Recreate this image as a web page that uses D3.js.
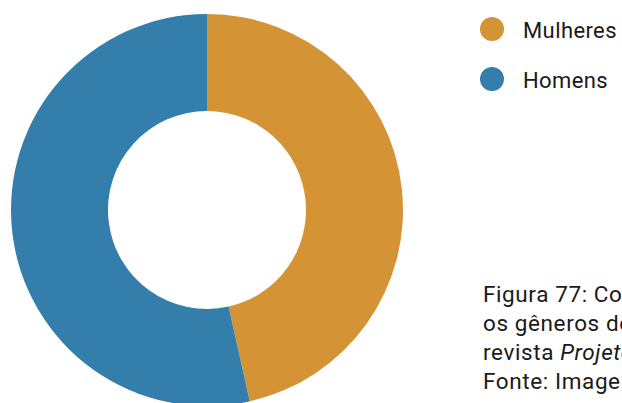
<!DOCTYPE html>
<html>
<head>
<meta charset="utf-8">
<script src="https://cdn.jsdelivr.net/npm/d3@7"></script>
<style>
  html, body { margin: 0; padding: 0; background: #fff; overflow: hidden; }
  svg { display: block; }
</style>
</head>
<body>
<svg id="chart" width="622" height="403"></svg>
<script>
// Gender split of authors
const categories = ["Mulheres", "Homens"];
const values = [46.5, 53.5];
const colors = ["#D49435", "#337EAA"];
const captionLines = [
  [{ t: "Figura 77: Comparação entre" }],
  [{ t: "os gêneros dos autores da" }],
  [{ t: "revista " }, { t: "Projeto", italic: true }],
  [{ t: "Fonte: Imagem do autor" }]
];

const svg = d3.select("#chart");
const cx = 207, cy = 210, outerR = 196, innerR = 99;

const pie = d3.pie().sort(null).value(d => d)(values);
const arc = d3.arc().innerRadius(innerR).outerRadius(outerR);
const color = d3.scaleOrdinal().domain(categories).range(colors);

svg.append("g")
  .attr("transform", `translate(${cx},${cy})`)
  .selectAll("path")
  .data(pie)
  .join("path")
  .attr("d", arc)
  .attr("fill", (d, i) => color(categories[i]));

// Legend
const legend = svg.append("g").attr("transform", "translate(492,29)");
const item = legend.selectAll("g")
  .data(categories)
  .join("g")
  .attr("transform", (d, i) => `translate(0,${i * 50})`);
item.append("circle").attr("r", 12).attr("fill", d => color(d));
item.append("text")
  .attr("x", 31).attr("y", 8.5)
  .attr("font-family", "Roboto, sans-serif")
  .attr("font-size", 22)
  .attr("letter-spacing", 0.4)
  .attr("fill", "#1a1a1a")
  .text(d => d);

// Caption
const cap = svg.append("g")
  .attr("font-family", "Roboto, sans-serif")
  .attr("font-size", 22.5)
  .attr("letter-spacing", 0.6)
  .attr("fill", "#1a1a1a");
captionLines.forEach((line, i) => {
  const t = cap.append("text").attr("x", 483).attr("y", 302 + i * 29);
  line.forEach(s => {
    t.append("tspan").attr("font-style", s.italic ? "italic" : "normal").text(s.t);
  });
});
</script>
</body>
</html>
